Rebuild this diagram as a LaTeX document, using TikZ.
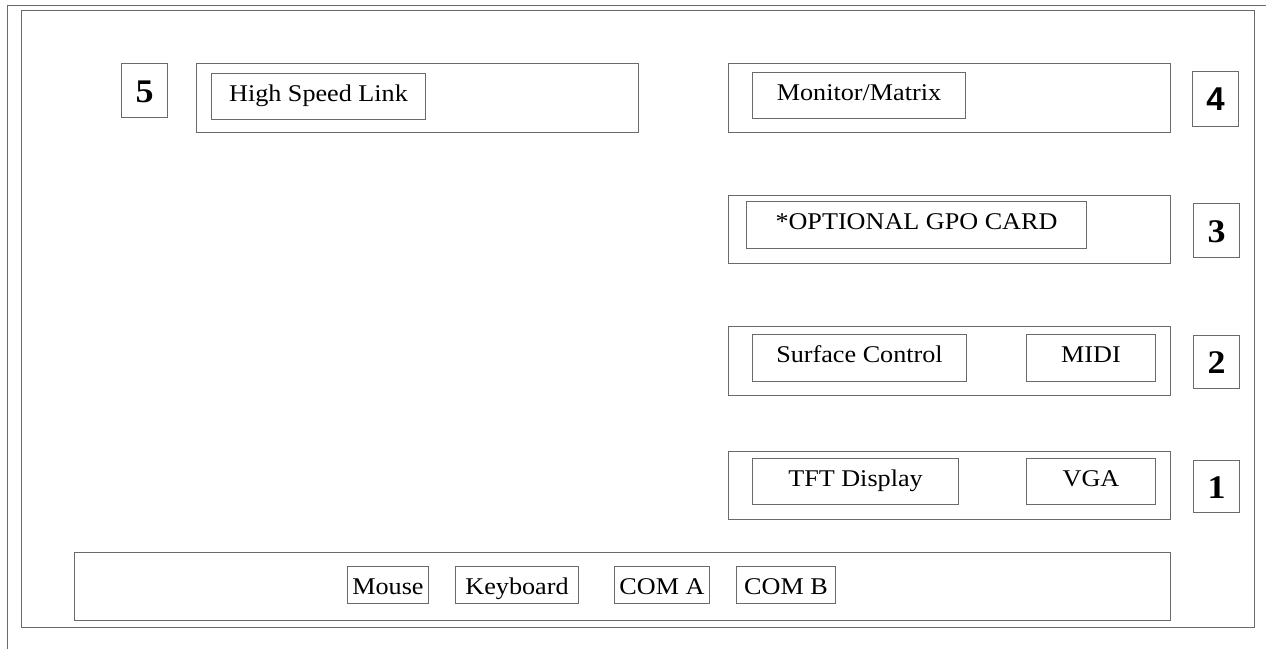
\documentclass[tikz,border=0pt]{standalone}
\usepackage{fontspec}
\setmainfont{Liberation Serif}[FakeStretch=1.09]
\newfontfamily\numsans{Liberation Sans}
\definecolor{linec}{HTML}{6A6A6A}
\begin{document}
\begin{tikzpicture}[x=1pt,y=-1pt,
  frame/.style={draw=linec, line width=1pt},
  panel/.style={frame, inner sep=0pt, anchor=north west},
  lbl/.style={frame, inner sep=0pt, anchor=north west, font=\fontsize{24}{24}\selectfont, text height=28pt},
  num/.style={frame, inner sep=0pt, anchor=north west, font=\fontsize{33}{33}\selectfont\bfseries, text height=23pt, text depth=0pt, minimum width=46pt},
]
\useasboundingbox (0,0) rectangle (1266,649);
% page edges
\coordinate (pgA) at (7,649);
\coordinate (pgB) at (7,5);
\coordinate (pgC) at (1266,5);
\draw[frame] (pgA) -- (pgB) -- (pgC);
% inner frame
\node[panel, minimum width=1233pt, minimum height=617pt] (frm) at (21,10) {};
% panels
\node[panel, minimum width=442pt, minimum height=69pt] (p5) at (196,63) {};
\node[panel, minimum width=442pt, minimum height=69pt] (p4) at (728,63) {};
\node[panel, minimum width=442pt, minimum height=68pt] (p3) at (728,195) {};
\node[panel, minimum width=442pt, minimum height=69pt] (p2) at (728,326) {};
\node[panel, minimum width=442pt, minimum height=68pt] (p1) at (728,451) {};
\node[panel, minimum width=1096pt, minimum height=68pt] (pb) at (74,552) {};
% labels
\node[lbl, minimum width=214pt, text depth=18pt] (hsl) at (211,73) {High Speed Link};
\node[lbl, minimum width=213pt, text depth=18pt] (mon) at (752,72) {Monitor/Matrix};
\node[lbl, minimum width=340pt, text depth=19pt] (gpo) at (746,201) {*OPTIONAL GPO CARD};
\node[lbl, minimum width=214pt, text depth=19pt] (sc) at (752,334) {Surface Control};
\node[lbl, minimum width=129pt, text depth=19pt] (midi) at (1026,334) {MIDI};
\node[lbl, minimum width=206pt, text depth=18pt] (tft) at (752,458) {TFT Display};
\node[lbl, minimum width=129pt, text depth=18pt] (vga) at (1026,458) {VGA};
\node[lbl, minimum width=81pt, text depth=9pt] (mouse) at (347,566) {Mouse};
\node[lbl, minimum width=123pt, text depth=9pt] (kbd) at (455,566) {Keyboard};
\node[lbl, minimum width=95pt, text depth=9pt] (coma) at (614,566) {COM A};
\node[lbl, minimum width=99pt, text depth=9pt] (comb) at (736,566) {COM B};
% numbers
\node[num, minimum height=54pt] (n5) at (121,63) {5};
\node[num, minimum height=55pt, font=\fontsize{33}{33}\selectfont\numsans\bfseries] (n4) at (1192,71) {4};
\node[num, minimum height=54pt] (n3) at (1193,203) {3};
\node[num, minimum height=53pt] (n2) at (1193,335) {2};
\node[num, minimum height=52pt] (n1) at (1193,460) {1};
\end{tikzpicture}
\end{document}
